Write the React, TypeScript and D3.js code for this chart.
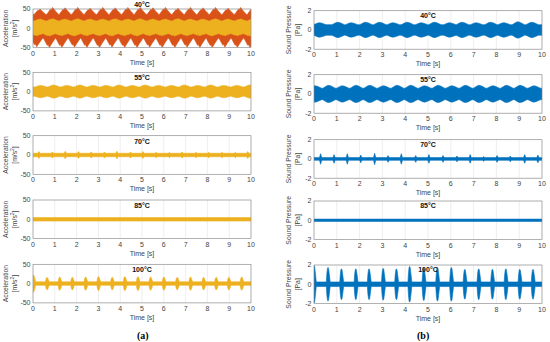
import React from 'react';
import * as d3 from 'd3';

const temps = ['40°C', '55°C', '70°C', '85°C', '100°C'];
const timeTicks = [0, 1, 2, 3, 4, 5, 6, 7, 8, 9, 10];
const accTicks = [-50, 0, 50];
const spTicks = [-2, 0, 2];

// Envelopes: edge of the dense band, then burst times [s] and burst peaks

// (a) acceleration [m/s²]
const acc40OrangeTopBase = 36;
const acc40OrangeTopTimes = [0.32, 0.9, 1.47, 2.05, 2.62, 3.2, 3.77, 4.35, 4.92, 5.5, 6.07, 6.65, 7.22, 7.8, 8.37, 8.95, 9.52, 10.1];
const acc40OrangeTopPeaks = [50, 54, 53, 54, 52, 54, 53, 54, 54, 53, 54, 52, 54, 53, 54, 52, 54, 54];
const acc40OrangeBotBase = -26;
const acc40OrangeBotTimes = [0.17, 0.75, 1.32, 1.9, 2.47, 3.05, 3.62, 4.2, 4.77, 5.35, 5.92, 6.5, 7.07, 7.65, 8.22, 8.8, 9.37, 9.95];
const acc40OrangeBotPeaks = [-48, -50, -50, -49, -50, -50, -49, -50, -50, -49, -50, -50, -49, -50, -50, -49, -50, -50];
const acc40YellowTopBase = 19;
const acc40YellowTopPeaks = [24, 25, 24, 25, 24, 24, 25, 24, 25, 24, 24, 25, 24, 24, 25, 24, 24, 25];
const acc40YellowBotBase = -14;
const acc40YellowBotPeaks = [-19, -20, -19, -20, -19, -19, -20, -19, -20, -19, -19, -20, -19, -19, -20, -19, -19, -20];

const acc55Base = 12;
const acc55Times = [0.35, 0.95, 1.55, 2.15, 2.75, 3.35, 3.95, 4.55, 5.15, 5.75, 6.35, 6.95, 7.55, 8.15, 8.75, 9.35, 9.95];
const acc55Peaks = [16, 17, 16, 17, 16, 16, 17, 16, 17, 16, 16, 17, 16, 17, 16, 16, 17];

const acc70Base = 4.5;
const acc70Times = [0.27, 0.89, 1.48, 2.09, 2.67, 3.28, 3.85, 4.47, 5.04, 5.65, 6.26, 6.84, 7.48, 8.06, 8.67, 9.28, 9.85];
const acc70Peaks = [9, 8, 10, 9, 8, 8, 10, 8, 9, 7, 7, 8, 7, 7, 7, 7, 9];

const acc85Base = 4.5;

const acc100Base = 4.5;
const acc100Times = [0.02, 0.64, 1.22, 1.8, 2.41, 3.0, 3.63, 4.21, 4.81, 5.39, 6.0, 6.61, 7.22, 7.82, 8.4, 8.98, 9.57];
const acc100Peaks = [22, 16, 17, 16, 17, 18, 16, 18, 18, 17, 17, 16, 17, 16, 16, 16, 17];

// (b) sound pressure [Pa]
const sp40Base = 0.55;
const sp40Times = [0.25, 1.05, 1.64, 2.27, 2.88, 3.47, 4.09, 4.71, 5.29, 5.95, 6.5, 7.12, 7.75, 8.33, 8.95, 9.56];
const sp40Peaks = [0.75, 0.8, 0.75, 0.8, 0.8, 0.75, 0.8, 0.75, 0.8, 0.75, 0.8, 0.75, 0.8, 0.75, 0.85, 0.8];

const sp55Base = 0.6;
const sp55Times = [0.05, 0.65, 1.25, 1.85, 2.45, 3.05, 3.65, 4.25, 4.85, 5.45, 6.05, 6.65, 7.25, 7.85, 8.45, 9.05, 9.65];
const sp55Peaks = [0.85, 0.9, 0.85, 0.9, 0.9, 0.85, 0.9, 0.9, 0.85, 0.9, 0.85, 0.9, 0.9, 0.85, 0.9, 0.9, 0.85];

const sp70Base = 0.14;
const sp70Times = [0.29, 0.88, 1.46, 2.05, 2.66, 3.25, 3.83, 4.46, 5.04, 5.66, 6.27, 6.85, 7.44, 8.03, 8.61, 9.24, 9.82];
const sp70Peaks = [0.55, 0.45, 0.55, 0.4, 0.6, 0.35, 0.55, 0.35, 0.45, 0.35, 0.3, 0.45, 0.25, 0.35, 0.3, 0.45, 0.4];

const sp85Base = 0.12;

const sp100Base = 0.24;
const sp100Times = [0.0, 0.61, 1.2, 1.83, 2.41, 3.03, 3.61, 4.19, 4.81, 5.41, 6.02, 6.61, 7.22, 7.82, 8.41, 9.02, 9.6];
const sp100Peaks = [1.95, 1.75, 1.6, 1.6, 1.6, 1.65, 1.6, 1.85, 1.7, 1.75, 1.75, 1.55, 1.6, 1.55, 1.6, 1.55, 1.55];

const YELLOW = '#EDB120';
const ORANGE = '#D95319';
const BLUE = '#0072BD';

// burst profiles: [dt in s, fraction of the way from band edge to peak]
const bumpShape = [[-0.26, 0], [-0.08, 0.85], [0, 1], [0.1, 0.75], [0.28, 0]];
const waveShape = [[-0.27, 0], [-0.1, 0.75], [-0.05, 0.7], [0, 1], [0.1, 0.6], [0.27, 0]];
const spikeShape = [[-0.07, 0], [-0.045, 0.6], [-0.02, 0.93], [0.005, 1], [0.03, 0.92], [0.06, 0.55], [0.1, 0]];
const tickShape = [[-0.05, 0], [0, 1], [0.05, 0]];

type Env = { base: number; times: number[]; peaks: number[]; shape: number[][] };
type Series = { up: Env; lo: Env; color: string };

function sym(base: number, times: number[], peaks: number[], shape: number[][], color: string): Series {
  return {
    up: { base, times, peaks, shape },
    lo: { base: -base, times, peaks: peaks.map((v) => -v), shape },
    color,
  };
}

function edge(e: Env): [number, number][] {
  const pts: [number, number][] = [[-0.4, e.base], [10.4, e.base]];
  e.times.forEach((t, i) => {
    e.shape.forEach(([dt, f]) => pts.push([t + dt, e.base + f * (e.peaks[i] - e.base)]));
  });
  return pts.sort((a, b) => a[0] - b[0]);
}

const accPanels: Series[][] = [
  [
    {
      up: { base: acc40OrangeTopBase, times: acc40OrangeTopTimes, peaks: acc40OrangeTopPeaks, shape: waveShape },
      lo: { base: acc40OrangeBotBase, times: acc40OrangeBotTimes, peaks: acc40OrangeBotPeaks, shape: waveShape },
      color: ORANGE,
    },
    {
      up: { base: acc40YellowTopBase, times: acc40OrangeTopTimes, peaks: acc40YellowTopPeaks, shape: waveShape },
      lo: { base: acc40YellowBotBase, times: acc40OrangeBotTimes, peaks: acc40YellowBotPeaks, shape: waveShape },
      color: YELLOW,
    },
  ],
  [sym(acc55Base, acc55Times, acc55Peaks, bumpShape, YELLOW)],
  [sym(acc70Base, acc70Times, acc70Peaks, tickShape, YELLOW)],
  [sym(acc85Base, [], [], tickShape, YELLOW)],
  [sym(acc100Base, acc100Times, acc100Peaks, spikeShape, YELLOW)],
];

const spPanels: Series[][] = [
  [sym(sp40Base, sp40Times, sp40Peaks, bumpShape, BLUE)],
  [sym(sp55Base, sp55Times, sp55Peaks, bumpShape, BLUE)],
  [sym(sp70Base, sp70Times, sp70Peaks, tickShape, BLUE)],
  [sym(sp85Base, [], [], tickShape, BLUE)],
  [sym(sp100Base, sp100Times, sp100Peaks, spikeShape, BLUE)],
];

const FONT = '"Liberation Sans", Arial, sans-serif';

type PanelProps = {
  id: string;
  left: number;
  right: number;
  top: number;
  height: number;
  yMax: number;
  yTicks: number[];
  series: Series[];
  title: string;
  titleY: number;
  label1: string;
  label2: React.ReactNode;
  labelX: number;
};

function Panel(p: PanelProps) {
  const x = d3.scaleLinear().domain([0, 10]).range([p.left, p.right]);
  const y = d3.scaleLinear().domain([-p.yMax, p.yMax]).range([p.top + p.height, p.top]);
  const bottom = p.top + p.height;
  const midY = p.top + p.height / 2;
  const line = d3
    .line<[number, number]>()
    .x((d) => x(d[0]))
    .y((d) => y(d[1]));
  const shapePath = (s: Series) => (line([...edge(s.up), ...edge(s.lo).reverse()]) || '') + 'Z';
  const clipId = `clip-${p.id}`;
  return (
    <g fontFamily={FONT}>
      <defs>
        <clipPath id={clipId}>
          <rect x={p.left} y={p.top - 2} width={p.right - p.left} height={p.height + 2} />
        </clipPath>
      </defs>
      {timeTicks.map((t) => (
        <line key={'gx' + t} x1={x(t)} x2={x(t)} y1={p.top} y2={bottom} stroke="#e3e3e3" strokeWidth={0.6} />
      ))}
      {p.yTicks.map((v) => (
        <line key={'gy' + v} x1={p.left} x2={p.right} y1={y(v)} y2={y(v)} stroke="#e3e3e3" strokeWidth={0.6} />
      ))}
      <g clipPath={`url(#${clipId})`}>
        {p.series.map((s, i) => (
          <path key={i} d={shapePath(s)} fill={s.color} stroke={s.color} strokeWidth={0.6} strokeLinejoin="round" />
        ))}
      </g>
      <rect x={p.left} y={p.top} width={p.right - p.left} height={p.height} fill="none" stroke="#8a8a8a" strokeWidth={0.6} />
      {timeTicks.map((t) => (
        <text key={'tx' + t} x={x(t)} y={bottom + 8} fontSize={7} fill="#444" textAnchor="middle">
          {t}
        </text>
      ))}
      {p.yTicks.map((v) => (
        <text key={'ty' + v} x={p.left - 2.5} y={y(v) + 2.4} fontSize={7} fill="#444" textAnchor="end">
          {v}
        </text>
      ))}
      <text x={(p.left + p.right) / 2} y={bottom + 17} fontSize={7} fill="#444" textAnchor="middle">
        Time [s]
      </text>
      <text x={(p.left + p.right) / 2} y={p.titleY + 2.5} fontSize={7} fontWeight="bold" fill="#111" textAnchor="middle">
        {p.title}
      </text>
      <text transform={`translate(${p.labelX},${midY}) rotate(-90)`} fontSize={6.8} fill="#444" textAnchor="middle">
        {p.label1}
      </text>
      <text transform={`translate(${p.labelX + 8.5},${midY}) rotate(-90)`} fontSize={6.8} fill="#444" textAnchor="middle">
        {p.label2}
      </text>
    </g>
  );
}

const leftTops = [9, 72.3, 135.7, 200, 264.3];
const rightTops = [10.7, 74.7, 139.7, 201, 265];

export default function App() {
  return (
    <svg width={550} height={342} style={{ position: 'absolute', left: 0, top: 0, background: '#fff' }}>
      <rect width={550} height={342} fill="#fff" />
      {temps.map((t, i) => (
        <Panel
          key={'a' + i}
          id={'a' + i}
          left={33}
          right={251}
          top={leftTops[i]}
          height={38.6}
          yMax={50}
          yTicks={accTicks}
          series={accPanels[i]}
          title={t}
          titleY={i === 0 ? 4 : leftTops[i] + 5.5}
          label1="Acceleration"
          label2={
            <>
              [m/s<tspan dy={-2.5} fontSize={5}>2</tspan>
              <tspan dy={2.5}>]</tspan>
            </>
          }
          labelX={8}
        />
      ))}
      {temps.map((t, i) => (
        <Panel
          key={'b' + i}
          id={'b' + i}
          left={314}
          right={542}
          top={rightTops[i]}
          height={38.5}
          yMax={2}
          yTicks={spTicks}
          series={spPanels[i]}
          title={t}
          titleY={rightTops[i] + 4.8}
          label1="Sound Pressure"
          label2="[Pa]"
          labelX={291}
        />
      ))}
      <text x={137} y={339} fontFamily='"Liberation Serif", "DejaVu Serif", serif' fontWeight="bold" fontSize={10}>
        (a)
      </text>
      <text x={417} y={339} fontFamily='"Liberation Serif", "DejaVu Serif", serif' fontWeight="bold" fontSize={10}>
        (b)
      </text>
    </svg>
  );
}
